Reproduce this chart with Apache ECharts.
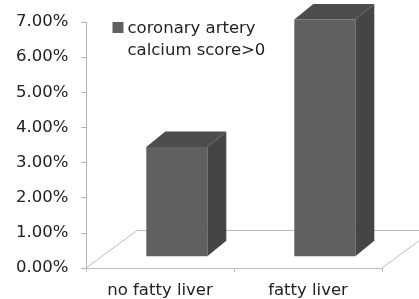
<!DOCTYPE html>
<html>
<head>
<meta charset="utf-8">
<script src="https://cdn.jsdelivr.net/npm/echarts@6/dist/echarts.min.js"></script>
<style>
html,body{margin:0;padding:0;background:#fff;}
#chart{width:419px;height:299px;}
</style>
</head>
<body>
<div id="chart"></div>
<script>
const categories = ['no fatty liver', 'fatty liver'];
const seriesName = 'coronary artery calcium score>0';
const legendLines = ['coronary artery', 'calcium score>0'];
const values = [3.11, 6.74];
const yTickLabels = ['0.00%', '1.00%', '2.00%', '3.00%', '4.00%', '5.00%', '6.00%', '7.00%'];

const FONT = 'DejaVu Sans';
const FS = 16.5;
const TXT = '#222222';
const FRONT = '#5f6160';
const TOP = '#4d4d4d';
const SIDE = '#454545';
const LINE = '#bdbdbd';

// 3D geometry (pixels)
const FRONT_DX = 16.8, FRONT_DY = 11.7;   // bar front plane offset from floor front
const BAR_W = 61;
const DEPTH_DX = 19, DEPTH_DY = 15.5;     // bar depth
const FLOOR_DX = 51, FLOOR_DY = 37.5;     // floor depth

const chart = echarts.init(document.getElementById('chart'), null, {renderer: 'canvas'});

function renderFloor(params, api) {
  const n = categories.length;
  const bw = api.size([1, 0])[0];
  const p0 = api.coord([0, 0]);
  const p1 = api.coord([n - 1, 0]);
  const L = p0[0] - bw / 2, R = p1[0] + bw / 2, by = p0[1];
  const st = {stroke: LINE, lineWidth: 1, fill: null};
  return {
    type: 'group',
    children: [
      {type: 'polyline', shape: {points: [[L, by], [L + FLOOR_DX, by - FLOOR_DY], [R + FLOOR_DX, by - FLOOR_DY]]}, style: st},
      {type: 'line', shape: {x1: R, y1: by, x2: R + FLOOR_DX, y2: by - FLOOR_DY}, style: st}
    ]
  };
}

function renderBar(params, api) {
  const base = api.coord([api.value(0), 0]);
  const top = api.coord([api.value(0), api.value(1)]);
  const x = base[0] + FRONT_DX - BAR_W / 2;
  const by = base[1] - FRONT_DY;
  const ty = top[1] - FRONT_DY;
  return {
    type: 'group',
    children: [
      {type: 'polygon', shape: {points: [[x + BAR_W, ty], [x + BAR_W + DEPTH_DX, ty - DEPTH_DY], [x + BAR_W + DEPTH_DX, by - DEPTH_DY], [x + BAR_W, by]]}, style: {fill: SIDE}},
      {type: 'polygon', shape: {points: [[x, ty], [x + BAR_W, ty], [x + BAR_W + DEPTH_DX, ty - DEPTH_DY], [x + DEPTH_DX, ty - DEPTH_DY]]}, style: {fill: TOP}},
      {type: 'rect', shape: {x: x, y: ty, width: BAR_W, height: by - ty}, style: {fill: FRONT}}
    ]
  };
}

chart.setOption({
  animation: false,
  backgroundColor: '#ffffff',
  grid: {left: 86, top: 22, right: 37, bottom: 30.5, containLabel: false},
  xAxis: {
    type: 'category',
    data: categories,
    boundaryGap: true,
    axisLine: {show: true, lineStyle: {color: LINE, width: 1}},
    axisTick: {show: true, length: 4, lineStyle: {color: LINE}},
    axisLabel: {color: TXT, fontFamily: FONT, fontSize: FS, margin: 14},
    splitLine: {show: false}
  },
  yAxis: {
    type: 'value',
    min: 0, max: 7, interval: 1,
    axisLine: {show: true, lineStyle: {color: '#b3b3b3', width: 1}},
    axisTick: {show: true, length: 5, lineStyle: {color: '#b3b3b3'}},
    axisLabel: {color: TXT, fontFamily: FONT, fontSize: FS, margin: 17.5,
      formatter: function (v) { return yTickLabels[Math.round(v)]; }},
    splitLine: {show: false}
  },
  graphic: [
    {type: 'rect', left: 112.5, top: 22, shape: {width: 11, height: 11}, style: {fill: FRONT}},
    {type: 'text', left: 127.5, top: 20.5, style: {text: legendLines[0], font: FS + 'px "' + FONT + '"', fill: TXT}},
    {type: 'text', left: 127.5, top: 42, style: {text: legendLines[1], font: FS + 'px "' + FONT + '"', fill: TXT}}
  ],
  series: [
    {type: 'custom', name: 'floor', renderItem: renderFloor, data: [[0, 0]], silent: true, z: 1, clip: false},
    {type: 'custom', name: seriesName, renderItem: renderBar, z: 2, clip: false,
      encode: {x: 0, y: 1},
      data: values.map(function (v, i) { return [i, v]; })}
  ]
});
</script>
</body>
</html>
